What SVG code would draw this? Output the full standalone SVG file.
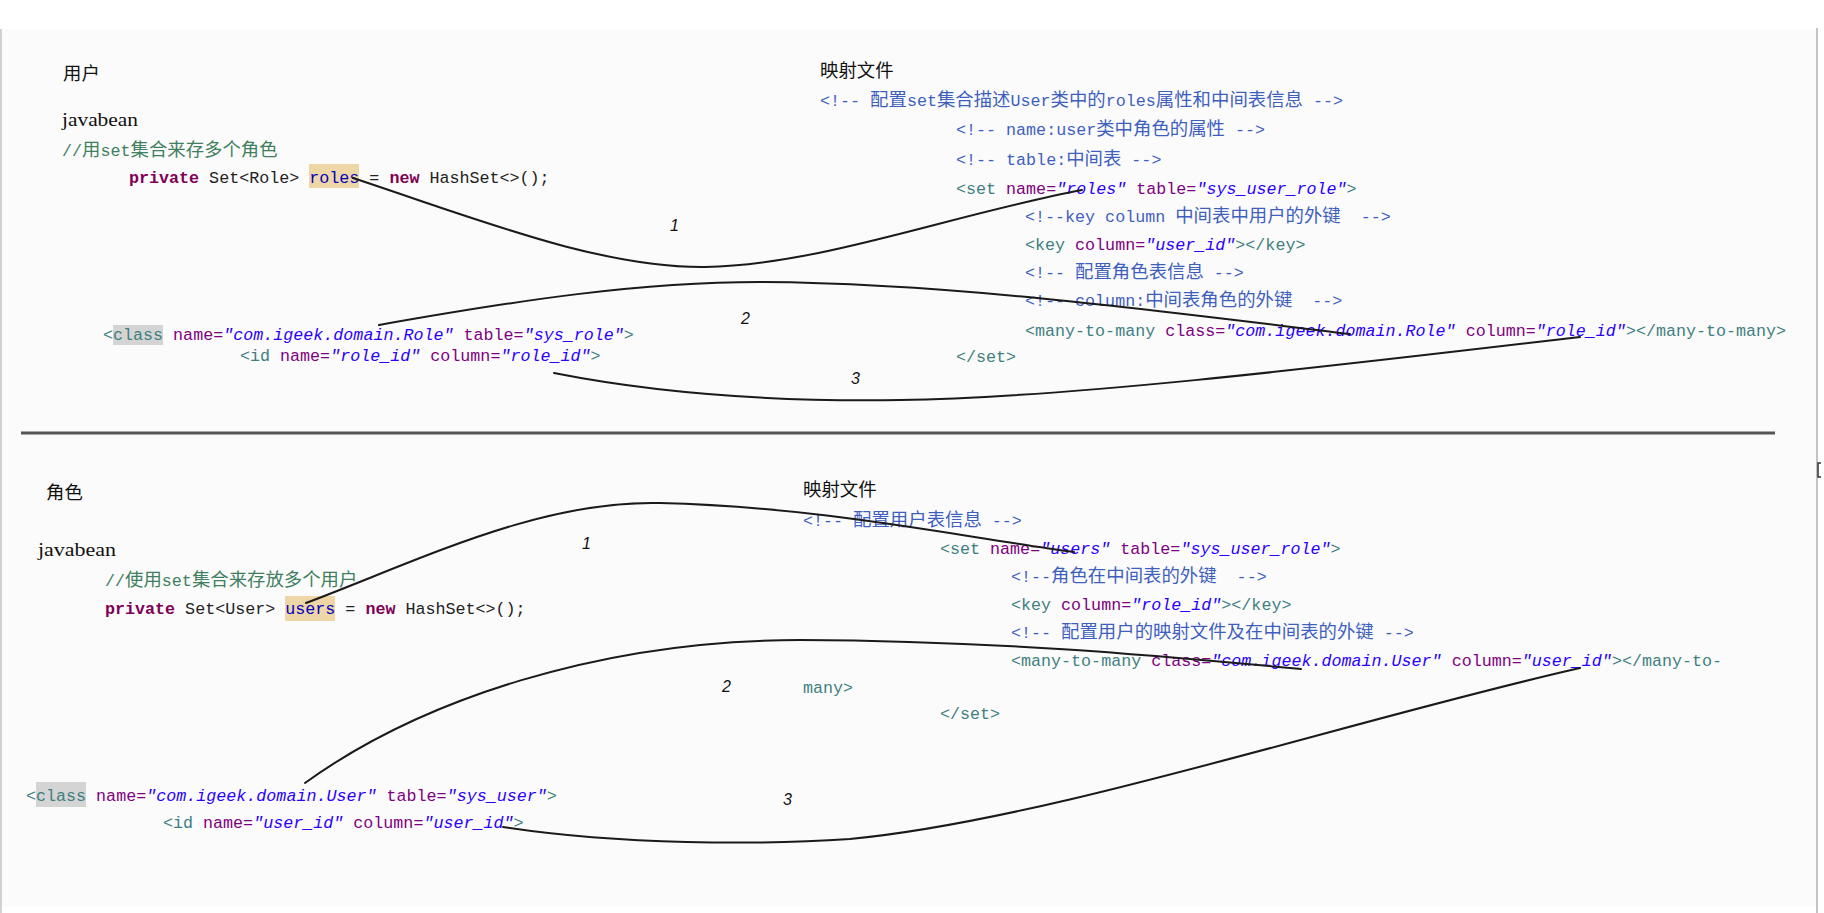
<svg xmlns="http://www.w3.org/2000/svg" width="1824" height="913" viewBox="0 0 1824 913">
<style>
.t{font-family:"Liberation Mono","Noto Sans CJK SC",monospace;font-size:16.7px;white-space:pre;fill:#222}
.z{font-family:"Noto Sans CJK SC",sans-serif;font-size:18.4px}
.h{font-family:"Noto Sans CJK SC",sans-serif;font-size:18.4px;fill:#111}
.jb{font-family:"Liberation Serif","Noto Sans CJK SC",serif;font-size:18px;fill:#111}
.cm{fill:#3F5FBF}
.tg{fill:#3F7F7F}
.an{fill:#7F007F}
.av{fill:#2A00FF;font-style:italic}
.kw{fill:#7F0055;font-weight:bold}
.jc{fill:#3F7F5F}
.fd{fill:#0000C0}
.n{font-family:"Liberation Sans",sans-serif;font-size:16px;font-style:italic;fill:#111}
.hlw{fill:#EFD6A6}
.hlg{fill:#D4D4D4}
.cn{fill:none;stroke:#1a1a1a;stroke-width:2;stroke-linecap:round}
</style>
<rect x="0" y="0" width="1824" height="913" fill="#ffffff"/>
<rect x="1" y="29" width="1816" height="878" fill="#FBFBFB"/>
<line x1="1" y1="29" x2="1" y2="913" stroke="#d2d2d2" stroke-width="2"/>
<line x1="1817" y1="28" x2="1817" y2="913" stroke="#c4c4c4" stroke-width="2"/>
<path d="M1821,463 L1818,463 L1818,477 L1821,477" fill="none" stroke="#333" stroke-width="1.5"/>
<line x1="21" y1="433" x2="1775" y2="433" stroke="#555" stroke-width="3"/>

<g id="user-title"><text class="h" x="63" y="80">用户</text></g>
<g id="user-javabean">
<rect class="hlw" x="309" y="164" width="50" height="24"/>
<text class="jb" x="62" y="126" textLength="76" lengthAdjust="spacingAndGlyphs">javabean</text>
<text class="t jc" x="62" y="156">//<tspan class="z">用</tspan>set<tspan class="z">集合来存多个角色</tspan></text>
<text class="t" x="129" y="183"><tspan class="kw">private</tspan> Set&lt;Role&gt; <tspan class="fd">roles</tspan> = <tspan class="kw">new</tspan> HashSet&lt;&gt;();</text>
</g>
<g id="user-mapping">
<text class="h" x="820" y="77">映射文件</text>
<text class="t cm" x="820" y="106">&lt;!-- <tspan class="z">配置</tspan>set<tspan class="z">集合描述</tspan>User<tspan class="z">类中的</tspan>roles<tspan class="z">属性和中间表信息</tspan> --&gt;</text>
<text class="t cm" x="956" y="135">&lt;!-- name:user<tspan class="z">类中角色的属性</tspan> --&gt;</text>
<text class="t cm" x="956" y="165">&lt;!-- table:<tspan class="z">中间表</tspan> --&gt;</text>
<text class="t" x="956" y="194"><tspan class="tg">&lt;set </tspan><tspan class="an">name=</tspan><tspan class="av">"roles"</tspan> <tspan class="an">table=</tspan><tspan class="av">"sys_user_role"</tspan><tspan class="tg">&gt;</tspan></text>
<text class="t cm" x="1025" y="222">&lt;!--key column <tspan class="z">中间表中用户的外键</tspan>  --&gt;</text>
<text class="t" x="1025" y="250"><tspan class="tg">&lt;key </tspan><tspan class="an">column=</tspan><tspan class="av">"user_id"</tspan><tspan class="tg">&gt;&lt;/key&gt;</tspan></text>
<text class="t cm" x="1025" y="278">&lt;!-- <tspan class="z">配置角色表信息</tspan> --&gt;</text>
<text class="t cm" x="1025" y="306">&lt;!-- column:<tspan class="z">中间表角色的外键</tspan>  --&gt;</text>
<text class="t" x="1025" y="336"><tspan class="tg">&lt;many-to-many </tspan><tspan class="an">class=</tspan><tspan class="av">"com.igeek.domain.Role"</tspan> <tspan class="an">column=</tspan><tspan class="av">"role_id"</tspan><tspan class="tg">&gt;&lt;/many-to-many&gt;</tspan></text>
<text class="t tg" x="956" y="362">&lt;/set&gt;</text>
</g>
<g id="role-class">
<rect class="hlg" x="113" y="325" width="50" height="20"/>
<text class="t" x="103" y="340"><tspan class="tg">&lt;class</tspan> <tspan class="an">name=</tspan><tspan class="av">"com.igeek.domain.Role"</tspan> <tspan class="an">table=</tspan><tspan class="av">"sys_role"</tspan><tspan class="tg">&gt;</tspan></text>
<text class="t" x="240" y="361"><tspan class="tg">&lt;id </tspan><tspan class="an">name=</tspan><tspan class="av">"role_id"</tspan> <tspan class="an">column=</tspan><tspan class="av">"role_id"</tspan><tspan class="tg">&gt;</tspan></text>
</g>

<g id="role-title"><text class="h" x="46" y="499">角色</text></g>
<g id="role-javabean">
<rect class="hlw" x="285" y="596" width="50" height="25"/>
<text class="jb" x="38" y="556" textLength="78" lengthAdjust="spacingAndGlyphs">javabean</text>
<text class="t jc" x="105" y="586">//<tspan class="z">使用</tspan>set<tspan class="z">集合来存放多个用户</tspan></text>
<text class="t" x="105" y="614"><tspan class="kw">private</tspan> Set&lt;User&gt; <tspan class="fd">users</tspan> = <tspan class="kw">new</tspan> HashSet&lt;&gt;();</text>
</g>
<g id="role-mapping">
<text class="h" x="803" y="496">映射文件</text>
<text class="t cm" x="803" y="526">&lt;!-- <tspan class="z">配置用户表信息</tspan> --&gt;</text>
<text class="t" x="940" y="554"><tspan class="tg">&lt;set </tspan><tspan class="an">name=</tspan><tspan class="av">"users"</tspan> <tspan class="an">table=</tspan><tspan class="av">"sys_user_role"</tspan><tspan class="tg">&gt;</tspan></text>
<text class="t cm" x="1011" y="582">&lt;!--<tspan class="z">角色在中间表的外键</tspan>  --&gt;</text>
<text class="t" x="1011" y="610"><tspan class="tg">&lt;key </tspan><tspan class="an">column=</tspan><tspan class="av">"role_id"</tspan><tspan class="tg">&gt;&lt;/key&gt;</tspan></text>
<text class="t cm" x="1011" y="638">&lt;!-- <tspan class="z">配置用户的映射文件及在中间表的外键</tspan> --&gt;</text>
<text class="t" x="1011" y="666"><tspan class="tg">&lt;many-to-many </tspan><tspan class="an">class=</tspan><tspan class="av">"com.igeek.domain.User"</tspan> <tspan class="an">column=</tspan><tspan class="av">"user_id"</tspan><tspan class="tg">&gt;&lt;/many-to-</tspan></text>
<text class="t tg" x="803" y="693">many&gt;</text>
<text class="t tg" x="940" y="719">&lt;/set&gt;</text>
</g>
<g id="user-class">
<rect class="hlg" x="36" y="782" width="50" height="25"/>
<text class="t" x="26" y="801"><tspan class="tg">&lt;class</tspan> <tspan class="an">name=</tspan><tspan class="av">"com.igeek.domain.User"</tspan> <tspan class="an">table=</tspan><tspan class="av">"sys_user"</tspan><tspan class="tg">&gt;</tspan></text>
<text class="t" x="163" y="828"><tspan class="tg">&lt;id </tspan><tspan class="an">name=</tspan><tspan class="av">"user_id"</tspan> <tspan class="an">column=</tspan><tspan class="av">"user_id"</tspan><tspan class="tg">&gt;</tspan></text>
</g>

<g id="connectors">
<path class="cn" d="M353,178 C480,220 600,268 705,267 C820,265 950,215 1082,190"/>
<path class="cn" d="M379,325 C520,300 640,282 760,282 C950,283 1150,310 1350,334"/>
<path class="cn" d="M554,373 C650,392 760,402 900,400 C1060,398 1300,370 1580,337"/>
<path class="cn" d="M306,603 C420,560 540,500 660,503 C820,507 950,535 1074,552"/>
<path class="cn" d="M305,783 C420,700 600,640 800,640 C1000,641 1150,655 1301,669"/>
<path class="cn" d="M503,827 C620,845 760,845 850,839 C1050,820 1350,720 1580,668"/>
<text class="n" x="670" y="231">1</text>
<text class="n" x="741" y="324">2</text>
<text class="n" x="851" y="384">3</text>
<text class="n" x="582" y="549">1</text>
<text class="n" x="722" y="692">2</text>
<text class="n" x="783" y="805">3</text>
</g>
</svg>
